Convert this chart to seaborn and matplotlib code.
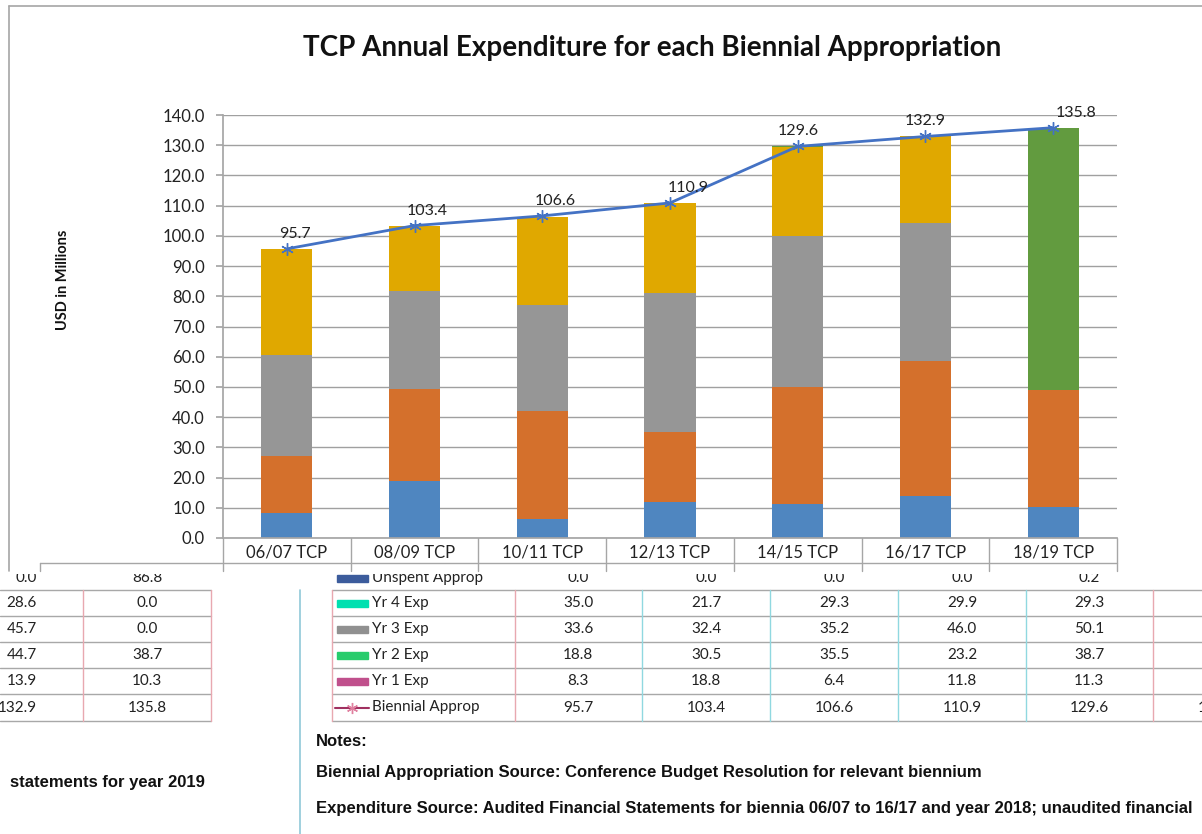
import numpy as np
import pandas as pd
import matplotlib.pyplot as plt
from matplotlib.patches import Rectangle
import seaborn as sns

cats = ['06/07 TCP', '08/09 TCP', '10/11 TCP', '12/13 TCP', '14/15 TCP', '16/17 TCP', '18/19 TCP']
yr1 = [8.3, 18.8, 6.4, 11.8, 11.3, 13.9, 10.3]
yr2 = [18.8, 30.5, 35.5, 23.2, 38.7, 44.7, 38.7]
yr3 = [33.6, 32.4, 35.2, 46.0, 50.1, 45.7, 0.0]
yr4 = [35.0, 21.7, 29.3, 29.9, 29.3, 28.6, 0.0]
unspent = [0.0, 0.0, 0.0, 0.0, 0.2, 0.0, 86.8]
approp = [95.7, 103.4, 106.6, 110.9, 129.6, 132.9, 135.8]

row_labels = ['Unspent Approp', 'Yr 4 Exp', 'Yr 3 Exp', 'Yr 2 Exp', 'Yr 1 Exp', 'Biennial Approp']
row_values = [unspent, yr4, yr3, yr2, yr1, approp]

df = pd.DataFrame({'cat': cats, 'yr1': yr1, 'yr2': yr2, 'yr3': yr3, 'yr4': yr4, 'unspent': unspent})
df['c2'] = df['yr1'] + df['yr2']
df['c3'] = df['c2'] + df['yr3']
df['c4'] = df['c3'] + df['yr4']
df['c5'] = df['c4'] + df['unspent']

W, H = 1202, 834
sns.set_theme(style='white')
plt.rcParams['font.family'] = ['Lato', 'DejaVu Sans']

fig = plt.figure(figsize=(W / 100, H / 100), dpi=100)
ov = fig.add_axes([0, 0, 1, 1])
ov.set_xlim(0, W)
ov.set_ylim(H, 0)
ov.axis('off')

# ---- data table underneath the chart (partly hidden) ----
edges = [590, 616, 642, 668, 694, 721]
centers = [578] + [(a + b) / 2 for a, b in zip(edges[:-1], edges[1:])]
key_cols = ['#3C5C9C', '#00E0B0', '#909090', '#28CC6C', '#C0508C']
tcol = '#222222'

for y in edges:
    ov.plot([332, W], [y, y], color='#A8A8A8', lw=1, zorder=2)
    ov.plot([0, 211], [y, y], color='#A8A8A8', lw=1, zorder=2)
for i, x in enumerate([332, 515, 642, 770, 898, 1026, 1153]):
    ov.plot([x, x], [590, 721], color='#E8A8B0' if i in (0, 1, 6) else '#90D8E0', lw=1, zorder=2)
for x in [83, 211]:
    ov.plot([x, x], [590, 721], color='#E8A8B0', lw=1, zorder=2)
ov.plot([300, 300], [590, H], color='#90C8D8', lw=1.2, zorder=2)

col_x = [578, 706, 834, 962, 1089, 1217]
for r, (lab, vals, yc) in enumerate(zip(row_labels, row_values, centers)):
    if r < 5:
        ov.add_patch(Rectangle((337, yc - 3.5), 31, 7, color=key_cols[r], zorder=3))
    else:
        ov.plot([335, 369], [yc, yc], color='#A03060', lw=1.5, zorder=3)
        ov.plot([352], [yc], marker=(6, 2, 0), ms=8, color='#E080A0', mew=1, zorder=3)
    ov.text(372, yc, lab, fontsize=11, color=tcol, va='center', ha='left', zorder=3)
    for j, x in enumerate(col_x):
        ov.text(x, yc, f'{vals[j]:.1f}', fontsize=11, color=tcol, va='center', ha='center', zorder=3)
    ov.text(37, yc, f'{vals[5]:.1f}', fontsize=11, color=tcol, va='center', ha='right', zorder=3)
    ov.text(147, yc, f'{vals[6]:.1f}', fontsize=11, color=tcol, va='center', ha='center', zorder=3)

notes_font = dict(family=['Liberation Sans', 'DejaVu Sans'], fontweight='bold', fontsize=12,
                  color='#111111', va='center', ha='left', zorder=3)
ov.text(316, 742, 'Notes:', **notes_font)
ov.text(316, 772, 'Biennial Appropriation Source: Conference Budget Resolution for relevant biennium', **notes_font)
ov.text(316, 809, 'Expenditure Source: Audited Financial Statements for biennia 06/07 to 16/17 and year 2018; '
        'unaudited financial', **notes_font)
ov.text(10, 782, 'statements for year 2019', **notes_font)

# ---- chart panel on top ----
ov.add_patch(Rectangle((9, 6), W, 568, facecolor='white', edgecolor='none', zorder=5))
ov.plot([9, 9], [6, 571], color='#A6A6A6', lw=1.2, zorder=6)
ov.plot([9, W], [6, 6], color='#A6A6A6', lw=1.2, zorder=6)

L, R, B, T = 223, 1117, 538, 115
cw = (R - L) / len(cats)
ov.plot([40, R], [563, 563], color='#A6A6A6', lw=1, zorder=7)
ov.plot([40, 40], [563, 571], color='#A6A6A6', lw=1, zorder=7)
for k in range(len(cats) + 1):
    ov.plot([L + k * cw] * 2, [538, 571], color='#A6A6A6', lw=1, zorder=7)

ov.text(652, 48, 'TCP Annual Expenditure for each Biennial Appropriation', fontsize=20,
        fontweight='bold', color='#111111', ha='center', va='center', zorder=7)

ax = fig.add_axes([L / W, 1 - B / H, (R - L) / W, (B - T) / H])
layers = [('c5', '#629B3F'), ('c4', '#E0A800'), ('c3', '#969696'), ('c2', '#D4702C'), ('yr1', '#4F86C0')]
for col, colr in layers:
    sns.barplot(data=df, x='cat', y=col, color=colr, saturation=1, width=0.4,
                linewidth=0, errorbar=None, ax=ax, zorder=2)

sns.lineplot(x=np.arange(len(cats)), y=approp, color='#4472C4', lw=2,
             marker=(6, 2, 0), markersize=9, markeredgewidth=1, markeredgecolor='#4472C4',
             ax=ax, zorder=4)
label_dx = [8, 13, 13, 18, 1, 0, 23]
for i, v in enumerate(approp):
    ax.annotate(f'{v:.1f}', (i, v), xytext=(label_dx[i], 15), textcoords='offset pixels',
                ha='center', va='center', fontsize=11.5, color='#222222', zorder=5)

ax.set_xlim(-0.5, len(cats) - 0.5)
ax.set_ylim(0, 140)
ax.set_yticks(np.arange(0, 141, 10))
ax.yaxis.set_major_formatter('{x:.1f}')
ax.yaxis.grid(True, color='#A0A0A0', lw=1)
ax.set_axisbelow(True)
for s in ['top', 'right']:
    ax.spines[s].set_visible(False)
for s in ['left', 'bottom']:
    ax.spines[s].set_color('#A6A6A6')
ax.tick_params(axis='y', left=True, length=5, color='#A6A6A6', labelsize=12, labelcolor='#222222', pad=8)
ax.tick_params(axis='x', length=0, labelsize=12, labelcolor='#222222', pad=5)
ax.set_xlabel('')
ax.set_ylabel('USD in Millions', fontsize=10.5, fontweight='bold', color='#111111')
ax.yaxis.set_label_coords((70 - L) / (R - L), (B - 280) / (B - T))

fig.savefig('out.png', dpi=100)
